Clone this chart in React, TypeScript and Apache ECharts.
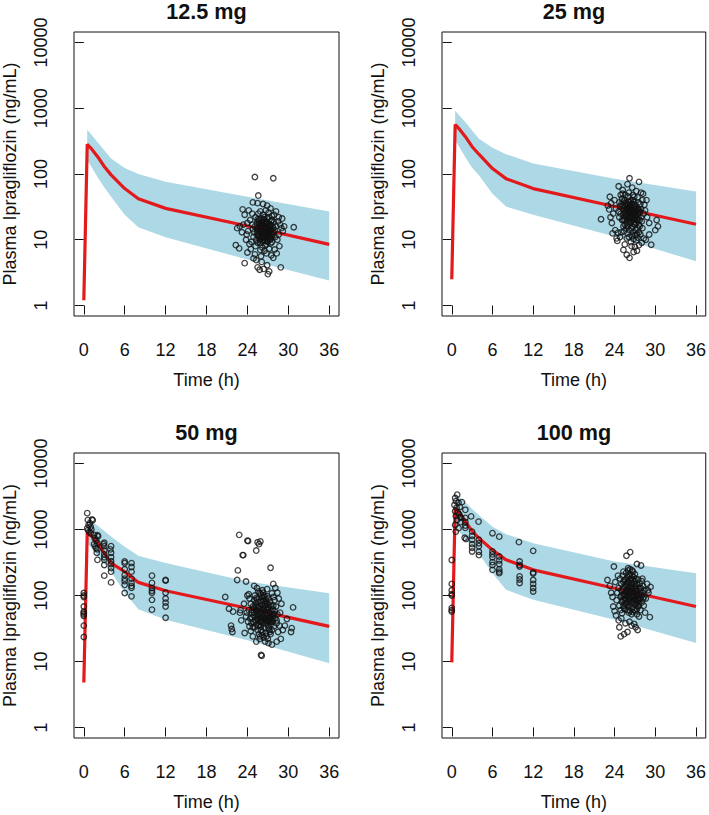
import React, { useEffect, useRef } from 'react';
import * as echarts from 'echarts';

const panelTitles = ['12.5 mg', '25 mg', '50 mg', '100 mg'];
const xTicks = [0, 6, 12, 18, 24, 30, 36];
const yTickExps = [0, 1, 2, 3, 4];
const yTickLabels = ['1', '10', '100', '1000', '10000'];

const medianTimes = [0, 0.5, 1, 2, 3, 4, 6, 8, 12, 24, 36];
const bandTimes = [0.5, 1, 2, 3, 4, 6, 8, 12, 24, 36];

const median125 = [1.2, 282, 250, 185, 130, 97, 60, 42, 30, 16.2, 8.5];
const upper125 = [470, 408, 306, 230, 172, 123, 100, 76, 45, 27];
const lower125 = [162, 135, 90, 63, 45, 24, 15.5, 10.9, 5.0, 2.4];

const median25 = [2.5, 565, 500, 370, 260, 200, 121, 85, 60, 32, 17.2];
const upper25 = [922, 800, 620, 460, 345, 250, 200, 145, 85, 54];
const lower25 = [325, 270, 180, 125, 96, 50, 32, 24, 11.2, 4.7];

const median50 = [4.8, 900, 820, 640, 440, 310, 230, 158, 118, 64, 34];
const upper50 = [1480, 1350, 1150, 950, 785, 550, 400, 310, 163, 108];
const lower50 = [620, 540, 400, 300, 230, 110, 62, 43, 21, 9.4];

const median100 = [9.7, 2100, 1900, 1320, 950, 740, 490, 347, 245, 129, 68];
const upper100 = [3550, 3200, 2600, 2050, 1660, 1100, 850, 620, 327, 218];
const lower100 = [1110, 950, 700, 560, 430, 218, 122, 86, 43, 19];

const obs125: number[][] = [
  [25.1, 90], [27.8, 86], [25.6, 47], [24.8, 37], [25.5, 36], [26.3, 35], [23.3, 29], [26.9, 33], [27.4, 30], [24.2, 28],
  [28.2, 27], [27.9, 24], [28.6, 22], [29.1, 21], [23.6, 24], [22.9, 16], [22.5, 15], [23.2, 13], [22.3, 8.3], [22.8, 7.4],
  [23.8, 10], [24.3, 8.6], [24.0, 6.4], [24.5, 7.2], [23.6, 4.4], [24.9, 5.2], [25.1, 6.0], [29.4, 16], [30.8, 15.5], [29.0, 15],
  [28.6, 12], [28.7, 8], [28.9, 3.8], [27.8, 5.3], [26.4, 3.6], [25.8, 3.5], [25.5, 3.8], [27.0, 3.0], [27.2, 3.3], [26.9, 4.1],
  [28.3, 6.2], [28.0, 7.1], [27.5, 5.8], [26.1, 4.6], [25.3, 4.9], [24.6, 9.3], [23.9, 12], [24.1, 13.5], [28.4, 10], [29.2, 13.5],
  [28.8, 17], [23.4, 17], [24.4, 20], [24.7, 25], [25.9, 27], [26.7, 28], [27.1, 26], [27.6, 20], [24.0, 18], [28.5, 19],
  [25.2, 22], [25.4, 18], [25.6, 15], [25.8, 12], [25.3, 10], [25.5, 9], [25.7, 20], [25.9, 17], [26.0, 14], [26.1, 11],
  [26.2, 9.5], [26.3, 24], [26.4, 19], [26.5, 16], [26.6, 13], [26.7, 10.5], [26.8, 8.5], [26.9, 21], [27.0, 18], [27.1, 15],
  [27.2, 12.5], [27.3, 10], [27.4, 17], [27.5, 14], [27.6, 11.5], [27.7, 16], [27.8, 13], [27.9, 18.5], [25.0, 13], [25.1, 16],
  [25.4, 12], [25.6, 25], [25.7, 11], [25.9, 9], [26.0, 21], [26.2, 18], [26.3, 13], [26.4, 10], [26.5, 22], [26.6, 8.2],
  [26.7, 15], [26.8, 19], [26.9, 12], [27.0, 9.5], [27.1, 22], [27.2, 17], [27.3, 14], [27.4, 8.8], [27.5, 19], [27.6, 23],
  [27.7, 12], [27.8, 15], [26.1, 16.5], [25.8, 14], [25.5, 20.5], [26.6, 17.5], [27.0, 11], [26.2, 7.6], [25.9, 7.0], [26.5, 6.8],
  [27.2, 7.3], [26.8, 6.2], [26.0, 5.6], [27.6, 9.2], [28.0, 14], [28.1, 11], [28.2, 16], [24.8, 14.5], [24.9, 11], [25.2, 8],
  [24.7, 17],
  [25.4, 14.5], [25.6, 11.8], [25.8, 16.2], [26.0, 12.2], [26.2, 15.2], [26.4, 12.8], [26.6, 14.8], [26.8, 11.2], [27.0, 13.6], [27.2, 10.8],
  [27.4, 12.2], [25.5, 13.2], [25.7, 17.5], [25.9, 10.2], [26.1, 13.4], [26.3, 16.8], [26.5, 11.6], [26.7, 17.8], [26.9, 14.2], [27.1, 12.0],
  [27.3, 16.2], [27.5, 10.5], [26.0, 18.5], [26.4, 20.5], [26.8, 13.2], [27.2, 14.8], [25.8, 9.8], [26.2, 10.6], [26.6, 9.6], [27.0, 15.8],
  [25.6, 19], [26.9, 9.3], [27.4, 11.2], [26.3, 11.5], [25.9, 15.2],
];

const obs25: number[][] = [
  [22.0, 20.5], [26.2, 86], [27.6, 76], [25.9, 70], [26.6, 62], [24.6, 65], [25.2, 57], [27.2, 55], [27.9, 52], [28.2, 50],
  [23.3, 45], [24.0, 40], [23.5, 36], [23.0, 33], [23.2, 29], [23.8, 25], [23.4, 22], [23.6, 18], [24.1, 14], [23.7, 12.5],
  [24.5, 12.8], [24.3, 10.5], [24.4, 9.6], [26.2, 5.3], [25.3, 7.0], [25.8, 5.9], [26.8, 6.5], [27.3, 6.8], [27.0, 7.8], [27.6, 8.3],
  [28.0, 9], [28.3, 10.5], [28.6, 10], [29.1, 12], [29.4, 8.4], [29.1, 18], [30.2, 20], [30.0, 14], [30.4, 16], [28.8, 22],
  [28.5, 28], [28.4, 34], [28.7, 40], [24.9, 48], [26.9, 45], [25.5, 8.5], [26.5, 8.0], [24.8, 11], [25.0, 13], [27.8, 12],
  [28.1, 15], [24.2, 30], [24.7, 22],
  [25.0, 35], [25.2, 30], [25.4, 26], [25.6, 22], [25.8, 19], [26.0, 16], [26.2, 14], [25.1, 42], [25.3, 38], [25.5, 33],
  [25.7, 28], [25.9, 24], [26.1, 21], [26.3, 18], [26.5, 15], [26.7, 13], [26.4, 40], [26.6, 35], [26.8, 30], [27.0, 26],
  [27.2, 23], [27.4, 20], [27.6, 17], [26.0, 45], [26.2, 38], [26.4, 32], [26.6, 27], [26.8, 24], [27.0, 21], [27.2, 18],
  [27.4, 15], [27.6, 13], [25.3, 20], [25.5, 17], [25.7, 15], [25.9, 12.5], [26.1, 11], [26.3, 27], [26.5, 23], [26.7, 20],
  [26.9, 17], [27.1, 14], [27.3, 12], [27.5, 30], [27.7, 26], [27.9, 22], [25.6, 48], [25.8, 36], [26.0, 31], [26.2, 25],
  [26.9, 38], [27.1, 33], [27.3, 28], [27.5, 25], [27.8, 35], [27.9, 29], [24.9, 25], [25.1, 20], [25.3, 16], [25.4, 13.5],
  [26.6, 11.5], [26.8, 10.2], [27.0, 11.8], [27.2, 9.8], [27.4, 10.8], [26.4, 9.2], [25.8, 10.5], [26.1, 52], [26.7, 48], [27.4, 44],
  [25.2, 50], [24.8, 32], [24.7, 37], [24.6, 27], [28.1, 40], [28.3, 25], [28.0, 19], [27.7, 16], [26.5, 19.5], [26.9, 21.5],
  [26.3, 22.5], [25.9, 29], [26.0, 34], [27.5, 37],
  [25.4, 28], [25.6, 25], [25.8, 30], [26.0, 27], [26.2, 32], [26.4, 28], [26.6, 24], [26.8, 27], [27.0, 30], [27.2, 26],
  [27.4, 29], [25.5, 20], [25.7, 23], [25.9, 20.5], [26.1, 25], [26.3, 30], [26.5, 35], [26.7, 31], [26.9, 27.5], [27.1, 24],
  [27.3, 20.5], [27.5, 22], [25.6, 36], [26.0, 38], [26.4, 21], [26.8, 18.5], [27.2, 31], [25.8, 16.5], [26.2, 19], [26.6, 16],
  [27.0, 17], [27.4, 25], [25.3, 24], [25.5, 40], [26.9, 34], [26.1, 29], [26.7, 40], [25.2, 33], [27.6, 28], [27.7, 20],
];

const obs50: number[][] = [
  [0, 109], [0, 95], [0, 68], [0, 57], [0, 52], [0, 49], [0, 35], [0, 23.5], [0, 100], [0, 55],
  [0.5, 1770], [0.6, 1400], [0.7, 1170], [0.5, 1050], [0.8, 930], [1.0, 1100], [1.1, 1000], [0.9, 1250], [1.2, 1420], [1.3, 1380],
  [0.6, 980], [1.0, 880],
  [1.5, 830], [1.6, 740], [1.8, 680], [2.0, 620], [1.7, 560], [2.0, 500], [1.9, 445], [2.0, 347], [1.5, 600], [2.1, 790],
  [2.0, 820], [1.8, 520],
  [3.0, 630], [3.0, 560], [3.0, 480], [3.0, 420], [3.0, 380], [3.0, 347], [3.0, 290], [3.0, 200], [2.9, 600],
  [4.0, 560], [4.0, 445], [4.0, 380], [4.0, 330], [4.0, 300], [4.0, 260], [4.0, 230], [4.0, 158], [3.9, 500],
  [6.0, 327], [6.0, 310], [6.0, 250], [6.0, 205], [6.0, 180], [6.0, 165], [6.0, 145], [6.0, 109],
  [7.0, 310], [7.0, 270], [7.0, 230], [7.0, 180], [7.0, 155], [7.0, 140], [7.0, 131], [7.0, 97],
  [10.0, 200], [10.0, 155], [10.0, 130], [10.0, 118], [10.0, 110], [10.0, 86], [10.0, 61],
  [12.0, 172], [12.0, 168], [12.0, 110], [12.0, 90], [12.0, 78], [12.0, 68], [12.0, 46],
  [22.8, 830], [24.0, 680], [24.1, 670], [25.5, 640], [25.7, 600], [25.9, 660], [25.3, 480], [23.3, 410], [23.4, 410], [27.4, 263],
  [22.6, 240], [22.5, 172], [23.8, 163], [20.75, 95], [30.7, 66], [26.0, 12.6], [26.1, 12.2], [21.3, 63], [21.9, 57], [21.6, 35],
  [21.7, 31], [21.8, 28], [30.5, 32], [30.4, 28], [29.8, 44], [29.2, 30], [28.9, 22], [28.3, 20], [27.6, 18], [25.3, 20],
  [24.8, 24], [23.6, 27], [23.1, 42], [22.9, 55], [23.5, 75], [23.0, 60], [24.0, 100], [24.2, 105], [25.0, 140], [25.4, 130],
  [26.2, 120], [26.9, 125], [27.8, 150], [28.1, 130], [28.4, 110], [28.6, 90], [29.0, 75], [28.8, 55], [29.5, 35], [26.6, 20],
  [27.1, 19], [25.8, 22],
  [24.3, 90], [24.5, 75], [24.7, 60], [24.9, 50], [25.1, 42], [25.3, 36], [25.5, 30], [24.4, 45], [24.6, 38], [24.8, 33],
  [25.0, 85], [25.2, 70], [25.4, 58], [25.6, 48], [25.8, 40], [26.0, 34], [26.2, 28], [25.1, 100], [25.3, 92], [25.5, 80],
  [25.7, 66], [25.9, 55], [26.1, 46], [26.3, 38], [26.5, 32], [26.7, 27], [26.0, 105], [26.2, 95], [26.4, 82], [26.6, 70],
  [26.8, 60], [27.0, 50], [27.2, 42], [27.4, 36], [27.6, 30], [26.3, 110], [26.5, 100], [26.7, 88], [26.9, 75], [27.1, 64],
  [27.3, 54], [27.5, 46], [27.7, 40], [27.9, 34], [25.6, 115], [25.8, 108], [26.9, 98], [27.1, 90], [27.3, 80], [27.5, 70],
  [27.7, 62], [27.9, 52], [28.1, 45], [28.3, 38], [25.2, 62], [25.4, 52], [25.6, 44], [25.8, 36], [26.0, 30], [26.2, 25],
  [26.4, 60], [26.6, 50], [26.8, 42], [27.0, 35], [27.2, 30], [27.4, 26], [24.6, 55], [24.8, 68], [25.0, 64], [26.1, 72],
  [26.3, 64], [26.5, 56], [26.7, 45], [26.9, 40], [27.1, 32], [27.3, 28], [27.6, 50], [27.8, 44], [28.0, 58], [28.2, 68],
  [28.4, 52], [28.0, 85], [27.8, 95], [27.6, 108], [24.1, 40], [24.3, 34], [24.5, 29], [26.4, 23], [26.8, 24], [27.0, 22],
  [25.7, 26], [25.9, 24], [28.5, 28], [28.7, 35], [28.3, 42], [24.2, 60], [23.8, 48], [23.9, 55],
  [25.0, 55], [25.2, 48], [25.4, 44], [25.6, 70], [25.8, 62], [26.0, 58], [26.2, 52], [26.4, 47], [26.6, 42], [26.8, 38],
  [27.0, 62], [27.2, 56], [27.4, 48], [27.6, 42], [25.3, 78], [25.5, 66], [25.7, 52], [25.9, 46], [26.1, 40], [26.3, 86],
  [26.5, 76], [26.7, 66], [26.9, 54], [27.1, 46], [27.3, 40], [27.5, 58], [27.7, 52], [25.4, 88], [25.9, 82], [26.4, 96],
  [26.8, 80], [27.2, 72], [25.6, 35], [26.0, 42], [26.5, 44], [27.0, 42], [24.9, 40], [24.7, 46], [25.1, 33], [27.8, 70],
];

const obs100: number[][] = [
  [0, 345], [0, 150], [0, 120], [0, 105], [0, 100], [0, 65], [0, 60], [0, 57],
  [0.8, 3380], [0.5, 3000], [0.6, 2700], [1.0, 2550], [0.4, 2350], [1.2, 2200], [0.7, 2140], [0.5, 1900], [0.9, 1800], [1.1, 1700],
  [0.6, 1600], [1.4, 1500], [0.8, 1400], [1.3, 1300], [0.5, 1170], [1.0, 1050], [0.6, 930], [1.5, 2600], [1.2, 1550],
  [2.0, 1990], [2.0, 1500], [2.0, 1300], [2.0, 1150], [2.0, 1060], [1.9, 750], [2.1, 720], [2.85, 1580],
  [3.0, 930], [3.0, 800], [3.0, 700], [3.0, 600], [3.0, 530], [3.0, 465],
  [3.95, 1320], [4.0, 700], [4.0, 620], [4.0, 560], [4.0, 460], [4.0, 410],
  [6.0, 880], [6.0, 465], [6.0, 420], [6.0, 380], [6.0, 320], [6.0, 290], [6.0, 245],
  [7.0, 780], [7.0, 390], [7.0, 340], [7.0, 300], [7.0, 250], [7.0, 230], [7.0, 218],
  [9.9, 645], [10.0, 327], [10.0, 290], [10.0, 275], [10.0, 195], [10.0, 175], [10.0, 155],
  [12.0, 475], [12.0, 223], [12.0, 215], [12.0, 172], [12.0, 150], [12.0, 130], [12.0, 115],
  [26.3, 455], [25.75, 400], [23.9, 275], [27.3, 300], [27.9, 285], [22.95, 172], [29.2, 47], [24.9, 24], [25.4, 26], [25.9, 28],
  [27.4, 30], [26.5, 35], [26.9, 37], [27.1, 33], [26.2, 40], [25.6, 38], [24.6, 42], [24.2, 50], [24.0, 58], [23.8, 68],
  [23.5, 110], [23.3, 140], [24.1, 160], [24.5, 200], [25.3, 230], [26.0, 260], [26.6, 240], [27.0, 210], [28.1, 180], [28.8, 150],
  [29.3, 135], [29.0, 110], [28.6, 90], [28.3, 70], [27.8, 60], [28.9, 120], [24.3, 85], [23.7, 95], [28.5, 55], [27.6, 48],
  [25.0, 45], [24.7, 33],
  [24.8, 180], [25.0, 150], [25.2, 125], [25.4, 105], [25.6, 90], [25.8, 78], [26.0, 68], [24.9, 95], [25.1, 80], [25.3, 70],
  [25.5, 62], [25.2, 200], [25.4, 170], [25.6, 145], [25.8, 122], [26.0, 104], [26.2, 90], [26.4, 76], [26.6, 66], [25.7, 220],
  [25.9, 190], [26.1, 160], [26.3, 135], [26.5, 115], [26.7, 98], [26.9, 84], [27.1, 72], [27.3, 62], [26.2, 210], [26.4, 180],
  [26.6, 152], [26.8, 130], [27.0, 110], [27.2, 95], [27.4, 82], [27.6, 70], [26.8, 190], [27.0, 165], [27.2, 140], [27.4, 120],
  [27.6, 104], [27.8, 90], [28.0, 78], [27.5, 175], [27.7, 150], [27.9, 128], [28.1, 110], [28.3, 95], [25.0, 120], [25.3, 100],
  [25.5, 85], [25.7, 72], [25.9, 60], [26.1, 55], [26.3, 58], [26.5, 52], [26.7, 56], [26.9, 60], [27.1, 58], [27.3, 52],
  [25.6, 175], [26.0, 140], [26.4, 118], [26.8, 100], [27.2, 86], [27.6, 76], [26.1, 118], [26.5, 95], [26.9, 150], [27.3, 105],
  [25.8, 100], [26.2, 70], [26.6, 82], [27.0, 90], [27.4, 68], [27.8, 115], [28.2, 140], [28.4, 120], [28.0, 165], [24.6, 130],
  [24.4, 110], [24.7, 70], [24.9, 60], [25.1, 54], [26.3, 250], [26.7, 230], [26.0, 240], [25.4, 65],
  [25.4, 135], [25.6, 115], [25.8, 150], [26.0, 125], [26.2, 110], [26.4, 150], [26.6, 125], [26.8, 112], [27.0, 135], [27.2, 118],
  [27.4, 100], [25.5, 100], [25.7, 88], [25.9, 112], [26.1, 95], [26.3, 100], [26.5, 135], [26.7, 115], [26.9, 98], [27.1, 125],
  [27.3, 150], [27.5, 92], [25.3, 160], [25.9, 160], [26.3, 175], [26.7, 170], [27.1, 180], [27.7, 130], [25.6, 78], [26.0, 82],
  [26.4, 88], [26.8, 75], [27.2, 78], [27.6, 85], [25.2, 85], [28.0, 100], [28.2, 88], [25.0, 100], [26.1, 200], [26.6, 200],
];

const panels = [
  { title: panelTitles[0], median: median125, upper: upper125, lower: lower125, obs: obs125 },
  { title: panelTitles[1], median: median25, upper: upper25, lower: lower25, obs: obs25 },
  { title: panelTitles[2], median: median50, upper: upper50, lower: lower50, obs: obs50 },
  { title: panelTitles[3], median: median100, upper: upper100, lower: lower100, obs: obs100 },
];

const boxes = [
  { left: 74, top: 32, width: 265, height: 284 },
  { left: 442, top: 32, width: 264, height: 284 },
  { left: 74, top: 453, width: 265, height: 285 },
  { left: 442, top: 453, width: 264, height: 285 },
];

const FONT = '"Liberation Sans", Arial, Helvetica, sans-serif';
const INK = '#111';
const lg = (v: number) => Math.log10(v);

export default function App() {
  const ref = useRef<HTMLDivElement>(null);
  useEffect(() => {
    if (!ref.current) return;
    const chart = echarts.init(ref.current, null, { renderer: 'svg' });
    const grid: any[] = [];
    const xAxis: any[] = [];
    const yAxis: any[] = [];
    const title: any[] = [];
    const series: any[] = [];
    panels.forEach((p, i) => {
      const b = boxes[i];
      grid.push({ ...b, show: true, borderColor: INK, borderWidth: 1, backgroundColor: 'transparent' });
      title.push({
        text: p.title,
        left: b.left + b.width / 2,
        top: b.top - 32,
        textAlign: 'center',
        padding: 0,
        textStyle: { fontFamily: FONT, fontSize: 21.6, fontWeight: 'bold', color: INK },
      });
      xAxis.push({
        gridIndex: i,
        type: 'value',
        min: -1.44,
        max: 37.44,
        axisLine: { show: false },
        splitLine: { show: false },
        axisTick: { show: true, customValues: xTicks, length: 9, lineStyle: { color: INK } },
        axisLabel: { customValues: xTicks, margin: 25, fontSize: 18, color: INK, fontFamily: FONT },
        name: 'Time (h)',
        nameLocation: 'middle',
        nameGap: 55,
        nameTextStyle: { fontSize: 18, color: INK, fontFamily: FONT },
      });
      yAxis.push({
        gridIndex: i,
        type: 'value',
        min: -0.16,
        max: 4.16,
        axisLine: { show: false },
        splitLine: { show: false },
        axisTick: { show: true, customValues: yTickExps, length: 9, lineStyle: { color: INK } },
        axisLabel: {
          customValues: yTickExps,
          rotate: 90,
          margin: 24,
          fontSize: 18,
          color: INK,
          fontFamily: FONT,
          formatter: (v: number) => yTickLabels[yTickExps.indexOf(Math.round(v))] ?? '',
        },
        name: 'Plasma Ipragliflozin (ng/mL)',
        nameLocation: 'middle',
        nameGap: 55,
        nameRotate: 90,
        nameTextStyle: { fontSize: 18, color: INK, fontFamily: FONT },
      });
      series.push({
        type: 'custom',
        xAxisIndex: i,
        yAxisIndex: i,
        silent: true,
        z: 1,
        data: [[0, 0]],
        renderItem: (_params: any, api: any) => {
          const up = bandTimes.map((t, k) => api.coord([t, lg(p.upper[k])]));
          const lo = bandTimes.map((t, k) => api.coord([t, lg(p.lower[k])])).reverse();
          return { type: 'polygon', shape: { points: up.concat(lo) }, style: { fill: '#ADD8E6' } };
        },
      });
      series.push({
        type: 'line',
        xAxisIndex: i,
        yAxisIndex: i,
        z: 2,
        showSymbol: false,
        silent: true,
        data: medianTimes.map((t, k) => [t, lg(p.median[k])]),
        lineStyle: { color: '#E3191C', width: 3.2 },
      });
      series.push({
        type: 'scatter',
        xAxisIndex: i,
        yAxisIndex: i,
        z: 3,
        silent: true,
        symbol: 'circle',
        symbolSize: 5.5,
        data: p.obs.map(([t, v]) => [t, lg(v)]),
        itemStyle: { color: 'rgba(0,0,0,0)', borderColor: INK, borderWidth: 1.3 },
      });
    });
    chart.setOption({
      animation: false,
      backgroundColor: '#fff',
      title,
      grid,
      xAxis,
      yAxis,
      series,
    });
    return () => chart.dispose();
  }, []);
  return <div ref={ref} style={{ position: 'absolute', left: 0, top: 0, width: 709, height: 815 }} />;
}
